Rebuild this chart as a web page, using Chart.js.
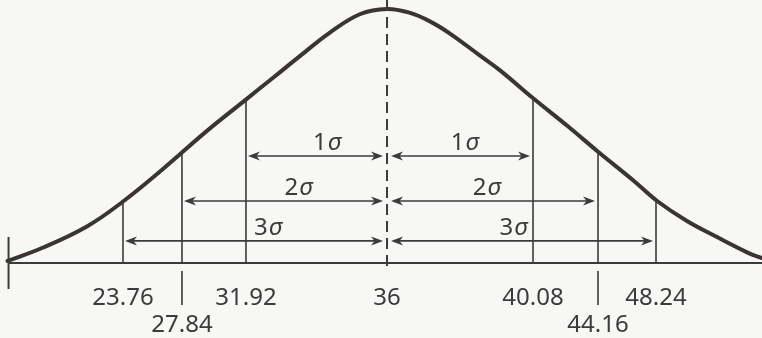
<!DOCTYPE html>
<html lang="es">
<head>
<meta charset="utf-8">
<title>Distribución normal</title>
<script src="https://cdn.jsdelivr.net/npm/chart.js@4/dist/chart.umd.min.js"></script>
<style>
    html, body { margin: 0; padding: 0; background: #f7f7f5; }
    canvas { display: block; }
</style>
</head>
<body>
<canvas id="normalChart" width="762" height="338"></canvas>
<script>
"use strict";

// Mean and standard deviation of the distribution
const mean = 36;
const sigma = 4.08;

// Cut points at -3, -2, -1, 0, +1, +2, +3 sigma
const cutValues = [23.76, 27.84, 31.92, 36, 40.08, 44.16, 48.24];
const cutLabels = ['23.76', '27.84', '31.92', '36', '40.08', '44.16', '48.24'];
// These two labels go on a second row
const loweredLabels = ['27.84', '44.16'];

// Sigma multiples shown as arrows out from the mean
const sigmaSteps = [1, 2, 3];

// Bell outline: x in drawn widths from the centre, y relative to the peak
const curveZ = [-2.71, -2.46, -2.14, -1.89, -1.60, -1.29, -1.01, -0.80, -0.62, -0.41, -0.19, 0,
                0.16, 0.31, 0.45, 0.66, 0.81, 1.04, 1.29, 1.51, 1.76, 1.93, 2.14, 2.34, 2.58, 2.68];
const curveH = [0.008, 0.060, 0.145, 0.240, 0.370, 0.518, 0.642, 0.735, 0.815, 0.906, 0.980, 1.000,
                0.985, 0.950, 0.903, 0.818, 0.757, 0.650, 0.539, 0.437, 0.325, 0.244, 0.166, 0.107, 0.040, 0.019];

const ink = '#3b3b3b';
const font = 'Noto Sans';

// The figure is not drawn to scale, so the value axis is piecewise:
// each cut point sits at its own spot across the width
const axisSpots = [0.1614, 0.2388, 0.3228, 0.5079, 0.6995, 0.7848, 0.8609];

class SchematicScale extends Chart.LinearScale {
    getPixelForValue(value) {
        if (value === null || value === undefined) return NaN;
        let i = 1;
        while (i < cutValues.length - 1 && value > cutValues[i]) i++;
        const t = (value - cutValues[i - 1]) / (cutValues[i] - cutValues[i - 1]);
        return this.getPixelForDecimal(axisSpots[i - 1] + t * (axisSpots[i] - axisSpots[i - 1]));
    }
}
SchematicScale.id = 'schematic';
SchematicScale.defaults = { ...Chart.LinearScale.defaults };
Chart.register(SchematicScale);

// Arrow with a head at both ends
function drawArrow(ctx, x1, x2, y) {
    ctx.beginPath();
    ctx.moveTo(x1 + 6, y);
    ctx.lineTo(x2 - 6, y);
    ctx.stroke();
    [[x1, 1], [x2, -1]].forEach(([tip, dir]) => {
        ctx.beginPath();
        ctx.moveTo(tip, y);
        ctx.lineTo(tip + dir * 12, y - 4.5);
        ctx.lineTo(tip + dir * 8.5, y);
        ctx.lineTo(tip + dir * 12, y + 4.5);
        ctx.closePath();
        ctx.fill();
    });
}

// "kσ" label with an italic sigma, centred on cx
function drawSigmaLabel(ctx, k, cx, baseline) {
    ctx.font = `24px "${font}"`;
    const num = String(k);
    const wNum = ctx.measureText(num).width;
    ctx.font = `italic 24px "${font}"`;
    const wSig = ctx.measureText('σ').width;
    const left = cx - (wNum + wSig + 1) / 2;
    ctx.textBaseline = 'alphabetic';
    ctx.textAlign = 'left';
    ctx.font = `24px "${font}"`;
    ctx.fillText(num, left, baseline);
    ctx.font = `italic 24px "${font}"`;
    ctx.fillText('σ', left + wNum + 1, baseline);
}

// Baseline, cut lines, mean line and sigma arrows
const bellMarks = {
    id: 'bellMarks',
    afterDatasetsDraw(chart) {
        const { ctx, chartArea, scales } = chart;
        const x = scales.x, y = scales.y;
        const pts = chart.getDatasetMeta(0).data;
        const base = y.getPixelForValue(0);

        // height of the drawn outline at a pixel position
        const curveTop = (px) => {
            for (let i = 1; i < pts.length; i++) {
                if (px <= pts[i].x) {
                    const a = pts[i - 1], b = pts[i];
                    return a.y + (b.y - a.y) * (px - a.x) / (b.x - a.x);
                }
            }
            return base;
        };

        ctx.save();
        ctx.strokeStyle = ink;
        ctx.fillStyle = ink;
        ctx.lineCap = 'butt';

        // baseline and the mark at its left end
        ctx.lineWidth = 2;
        ctx.beginPath();
        ctx.moveTo(pts[0].x, base);
        ctx.lineTo(chartArea.right, base);
        ctx.moveTo(pts[0].x + 1, base - 26);
        ctx.lineTo(pts[0].x + 1, base + 26);
        ctx.stroke();

        // vertical cut lines up to the curve
        ctx.lineWidth = 1.6;
        cutValues.forEach((v, i) => {
            if (v === mean) return;
            const px = x.getPixelForValue(v);
            ctx.beginPath();
            ctx.moveTo(px, base);
            ctx.lineTo(px, curveTop(px));
            if (loweredLabels.includes(cutLabels[i])) {
                ctx.moveTo(px, base + 8);
                ctx.lineTo(px, base + 42);
            }
            ctx.stroke();
        });

        // dashed line at the mean
        const mx = x.getPixelForValue(mean);
        ctx.lineWidth = 2;
        ctx.setLineDash([11, 6]);
        ctx.beginPath();
        ctx.moveTo(mx, chartArea.top);
        ctx.lineTo(mx, base + 5);
        ctx.stroke();
        ctx.setLineDash([]);

        // sigma arrows either side of the mean
        const arrowLevels = [0.421, 0.244, 0.087];
        const leftLabelAt = [0.585, 0.576, 0.554];
        const rightLabelAt = [0.53, 0.47, 0.468];
        ctx.lineWidth = 1.6;
        sigmaSteps.forEach((k, i) => {
            const ay = y.getPixelForValue(arrowLevels[i]);
            const lx = x.getPixelForValue(mean - k * sigma) + 2;
            const rx = x.getPixelForValue(mean + k * sigma) - 3;
            drawArrow(ctx, lx, mx - 4, ay);
            drawArrow(ctx, mx + 4, rx, ay);
            drawSigmaLabel(ctx, k, lx + leftLabelAt[i] * (mx - 4 - lx), ay - 6);
            drawSigmaLabel(ctx, k, mx + 4 + rightLabelAt[i] * (rx - mx - 4), ay - 6);
        });
        ctx.restore();
    }
};

const ctx = document.getElementById('normalChart').getContext('2d');
new Chart(ctx, {
    type: 'line',
    data: {
        datasets: [{
            data: curveZ.map((z, i) => ({ x: z, y: curveH[i] })),
            xAxisID: 'xc',
            yAxisID: 'y',
            borderColor: '#3a3434',
            borderWidth: 4,
            pointRadius: 0,
            tension: 0.4,
            borderCapStyle: 'round',
            clip: false
        }]
    },
    options: {
        responsive: false,
        animation: false,
        devicePixelRatio: 1,
        events: [],
        layout: { padding: 0 },
        plugins: { legend: { display: false }, tooltip: { enabled: false } },
        scales: {
            x: {
                type: 'schematic',
                position: 'bottom',
                min: 20,
                max: 52,
                grid: { display: false, drawTicks: false },
                border: { display: false },
                afterBuildTicks: axis => { axis.ticks = cutValues.map(v => ({ value: v })); },
                afterFit: axis => { axis.height = 75; },
                ticks: {
                    autoSkip: false,
                    maxRotation: 0,
                    padding: 22,
                    color: ink,
                    font: { family: font, size: 24, lineHeight: 1.125 },
                    callback: (value, i) => loweredLabels.includes(cutLabels[i]) ? ['', cutLabels[i]] : cutLabels[i]
                }
            },
            xc: { type: 'linear', display: false, min: -2.764, max: 2.679 },
            y: { display: false, min: 0, max: 1.035 }
        }
    },
    plugins: [bellMarks]
});
</script>
</body>
</html>
